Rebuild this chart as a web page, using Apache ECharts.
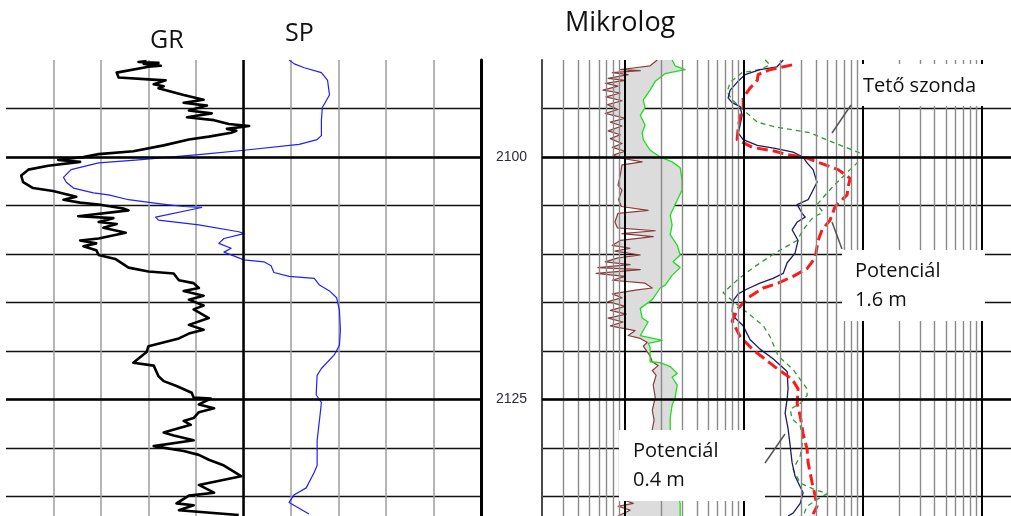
<!DOCTYPE html>
<html>
<head>
<meta charset="utf-8">
<script src="https://cdn.jsdelivr.net/npm/echarts@6/dist/echarts.min.js"></script>
<style>
  html, body { margin: 0; padding: 0; background: #fff; }
  #chart { width: 1011px; height: 516px; }
</style>
</head>
<body>
<div id="chart"></div>
<script>
// Depth window of the log plot (m) and the depths that carry a label
const depthRange = [2090, 2137];
const depthLabels = [2100, 2125];
const thickDepths = [2100, 2125];

// Left track: GR and SP, in track divisions (0..10), each point [value, depth]
const grCurve = [
  [2.96,2090.1],[2.79,2090.2],[3.21,2090.3],[2.90,2090.4],[3.26,2090.6],[3.00,2090.7],[2.33,2091.3],[2.37,2091.8],
  [3.00,2092.0],[3.36,2092.1],[3.11,2092.5],[3.32,2092.7],[3.21,2092.9],[3.74,2093.6],[4.16,2094.1],[3.74,2094.4],
  [4.23,2094.7],[3.85,2095.2],[4.33,2095.5],[3.81,2095.9],[4.38,2096.2],[4.69,2096.6],[5.12,2096.8],[4.65,2097.1],
  [4.85,2097.3],[4.74,2097.5],[4.27,2097.9],[3.85,2098.2],[3.32,2098.8],[2.68,2099.4],[1.95,2099.7],[1.63,2100.0],
  [1.10,2100.3],[1.56,2100.5],[0.89,2100.9],[0.47,2101.3],[0.32,2101.9],[0.36,2102.6],[0.57,2103.2],[0.99,2103.5],
  [1.31,2103.9],[1.48,2104.1],[1.21,2104.4],[1.56,2104.7],[1.95,2104.9],[2.47,2105.3],[2.58,2105.5],[1.52,2106.1],
  [2.26,2106.3],[1.95,2106.7],[2.33,2106.9],[2.05,2107.3],[2.52,2107.8],[1.95,2108.4],[1.56,2108.6],[1.90,2108.9],
  [1.63,2109.2],[1.90,2109.6],[1.95,2110.1],[2.30,2110.5],[2.58,2111.4],[3.00,2111.8],[3.53,2112.0],[3.64,2112.7],
  [3.95,2113.0],[4.06,2113.5],[3.74,2113.8],[4.16,2114.3],[3.85,2114.7],[4.16,2115.3],[3.95,2115.7],[4.27,2116.6],
  [3.85,2117.3],[4.16,2117.8],[3.85,2118.2],[3.64,2118.7],[3.00,2119.5],[2.96,2120.1],[2.68,2121.2],[3.11,2121.5],
  [3.21,2122.6],[3.32,2123.1],[3.59,2123.6],[3.91,2124.3],[3.95,2124.8],[4.31,2124.9],[4.06,2125.5],[4.38,2125.9],
  [4.06,2126.3],[3.95,2126.9],[3.74,2127.2],[3.89,2127.6],[3.32,2128.4],[3.53,2128.7],[3.95,2129.2],[3.11,2129.8],
  [3.74,2130.3],[4.06,2130.7],[4.27,2131.2],[4.59,2131.8],[4.95,2132.9],[4.06,2133.8],[4.38,2134.6],[3.85,2134.9],
  [3.59,2135.7],[3.95,2135.9],[3.64,2136.4],[4.90,2136.9]
];
const spCurve = [
  [5.96,2090.0],[6.07,2090.4],[6.28,2090.8],[6.64,2091.3],[6.77,2092.1],[6.81,2093.6],[6.66,2094.9],[6.64,2096.2],
  [6.64,2097.8],[6.55,2098.2],[6.17,2098.7],[5.01,2099.3],[4.17,2099.7],[2.79,2100.3],[1.95,2100.6],[1.37,2101.3],
  [1.21,2102.1],[1.27,2102.6],[1.42,2103.2],[1.84,2103.7],[2.16,2103.9],[2.58,2104.4],[3.21,2104.8],[3.74,2105.1],
  [4.12,2105.2],[3.15,2106.2],[3.21,2106.5],[4.06,2107.0],[4.90,2107.7],[5.01,2107.9],[4.59,2108.4],[4.48,2108.9],
  [4.74,2109.4],[4.59,2109.8],[4.90,2110.4],[5.01,2110.6],[5.43,2110.8],[5.58,2111.2],[5.64,2111.9],[5.96,2112.3],
  [6.49,2112.5],[6.60,2113.2],[6.81,2113.8],[6.96,2114.5],[7.02,2115.8],[7.04,2117.8],[7.02,2119.4],[6.91,2120.4],
  [6.64,2121.8],[6.55,2122.5],[6.53,2124.5],[6.64,2125.3],[6.60,2127.1],[6.55,2129.2],[6.55,2131.8],[6.49,2132.5],
  [6.32,2134.1],[6.07,2134.8],[5.96,2135.6],[6.17,2136.2],[6.38,2136.8]
];

// Right track (logarithmic): microlog pair and the three resistivity probes, [value, depth]
const microInverse = [
  [1.86,2090.0],[1.62,2090.6],[1.21,2090.8],[0.91,2091.0],[1.34,2091.1],[0.78,2091.3],[1.06,2091.5],[0.72,2091.9],
  [1.00,2092.1],[0.68,2092.4],[0.87,2092.7],[0.65,2093.1],[0.91,2093.4],[0.69,2093.8],[0.94,2094.2],[0.71,2094.6],
  [0.87,2095.1],[0.68,2095.5],[1.00,2096.0],[0.75,2096.4],[0.94,2096.8],[0.72,2097.3],[0.91,2097.7],[0.75,2098.1],
  [0.94,2098.6],[0.78,2099.0],[1.00,2099.4],[0.79,2099.8],[0.91,2100.1],[1.39,2100.5],[0.94,2100.8],[0.91,2101.9],
  [0.87,2102.9],[0.94,2103.4],[0.88,2104.4],[0.93,2105.1],[1.56,2105.5],[0.87,2105.8],[0.82,2106.7],[0.86,2107.3],
  [1.79,2107.6],[0.94,2107.9],[1.72,2108.2],[0.91,2108.6],[0.78,2109.1],[1.10,2109.4],[0.82,2109.7],[1.34,2110.1],
  [0.87,2110.4],[0.68,2110.8],[1.10,2111.1],[0.59,2111.4],[1.34,2111.6],[0.57,2112.0],[1.00,2112.3],[0.78,2112.7],
  [1.47,2113.0],[1.69,2113.5],[1.26,2113.7],[0.78,2114.1],[0.94,2114.5],[0.72,2114.9],[1.00,2115.4],[0.75,2115.8],
  [1.02,2116.2],[0.72,2116.6],[0.96,2117.0],[0.75,2117.4],[1.21,2117.9],[1.06,2118.4],[1.34,2118.7],[1.53,2119.1],
  [1.42,2119.5],[1.62,2120.5],[1.69,2121.1],[1.89,2121.5],[1.69,2122.0],[1.82,2122.5],[1.72,2123.5],[1.79,2124.8],
  [1.69,2126.1],[1.75,2127.1],[1.69,2128.1],[1.62,2131.8],[1.00,2135.4],[1.17,2135.7],[0.87,2136.0],[1.10,2136.4],
  [0.87,2137.0]
];
const microNormal = [
  [2.48,2090.0],[2.63,2090.6],[3.19,2091.0],[2.17,2091.4],[1.97,2091.8],[1.79,2092.2],[1.62,2093.1],[1.42,2094.1],
  [1.47,2094.9],[1.34,2095.7],[1.47,2096.7],[1.39,2097.5],[1.42,2098.2],[1.62,2099.3],[1.97,2100.0],[2.48,2100.5],
  [2.90,2101.1],[3.01,2102.4],[3.01,2103.4],[2.63,2104.9],[2.39,2106.0],[2.48,2107.0],[2.39,2108.0],[2.74,2109.1],
  [2.90,2110.1],[2.53,2110.8],[2.90,2111.4],[2.48,2112.2],[2.17,2113.2],[1.97,2113.5],[1.69,2114.7],[1.34,2115.6],
  [1.39,2116.6],[1.56,2117.0],[1.34,2118.4],[2.05,2118.9],[1.56,2119.2],[1.62,2119.6],[1.62,2121.1],[1.97,2121.2],
  [2.39,2121.6],[2.74,2122.3],[2.48,2122.7],[2.74,2123.5],[2.63,2124.8],[2.48,2125.6],[2.39,2126.9],[2.39,2128.1],
  [2.48,2132.0],[2.90,2135.7],[2.90,2137.0]
];
const shortNormal = [ // Potenciál 0.4 m
  [21.3,2090.0],[18.9,2090.7],[13.6,2091.0],[10.2,2091.5],[8.73,2092.3],[7.63,2093.1],[7.34,2093.9],[7.93,2094.4],
  [9.25,2094.8],[9.62,2095.7],[9.25,2096.7],[8.91,2097.5],[9.81,2098.2],[12.9,2098.8],[18.2,2099.1],[25.8,2099.5],
  [31.3,2100.0],[33.8,2100.6],[38.0,2101.3],[41.0,2102.6],[38.0,2103.4],[34.5,2104.4],[27.9,2104.9],[30.7,2105.8],
  [32.6,2106.2],[27.9,2106.7],[25.3,2107.5],[28.4,2108.6],[26.8,2109.9],[23.0,2110.9],[21.3,2112.0],[17.5,2112.5],
  [13.6,2113.0],[10.6,2113.6],[8.91,2114.1],[8.09,2114.8],[7.93,2115.9],[8.40,2116.6],[9.81,2117.4],[11.2,2118.8],
  [13.6,2119.8],[17.5,2120.8],[23.0,2122.1],[23.4,2123.9],[23.0,2124.9],[22.1,2126.4],[23.4,2128.0],[24.4,2129.8],
  [25.3,2131.5],[26.8,2132.9],[31.3,2134.6],[29.6,2135.7],[25.8,2136.7],[23.4,2137.0]
];
const longNormal = [ // Potenciál 1.6 m
  [25.3,2090.5],[16.5,2091.0],[13.1,2091.5],[12.9,2092.1],[11.2,2092.9],[9.81,2093.9],[9.81,2094.8],[9.25,2095.9],
  [8.91,2097.0],[8.73,2098.2],[11.7,2099.0],[18.2,2099.4],[22.1,2099.7],[33.8,2100.1],[41.0,2100.5],[61.7,2101.3],
  [77.8,2102.2],[74.8,2103.1],[73.4,2103.9],[58.2,2105.1],[52.8,2106.5],[45.2,2107.5],[41.9,2108.6],[39.5,2110.4],
  [33.8,2111.5],[25.8,2112.3],[19.3,2113.0],[14.5,2113.5],[10.8,2114.5],[8.91,2115.6],[7.93,2116.9],[9.25,2118.5],
  [11.7,2119.8],[15.6,2121.0],[18.9,2121.8],[25.3,2122.9],[28.4,2123.9],[27.9,2125.4],[29.6,2126.7],[31.3,2128.5],
  [33.8,2130.1],[34.5,2131.5],[37.3,2133.6],[39.5,2134.9],[41.0,2136.0],[38.0,2136.8]
];
const topProbe = [ // Tető szonda
  [15.0,2090.0],[16.5,2090.5],[13.6,2091.0],[9.62,2091.3],[7.63,2092.3],[7.20,2093.3],[7.93,2094.1],[10.6,2095.5],
  [12.9,2096.4],[18.2,2096.9],[35.9,2097.5],[56.0,2098.5],[82.4,2099.3],[100,2099.7],[94.4,2100.3],[77.8,2101.3],
  [60.5,2102.6],[49.8,2103.7],[41.0,2104.9],[46.1,2105.7],[38.0,2106.2],[31.3,2107.5],[27.9,2108.6],[18.2,2109.9],
  [11.9,2111.4],[8.91,2112.6],[6.66,2114.0],[7.93,2114.8],[10.8,2116.1],[14.5,2117.4],[16.5,2118.5],[19.3,2120.5],
  [25.8,2121.9],[33.8,2123.9],[33.8,2124.6],[29.6,2125.4],[24.4,2126.0],[25.3,2127.0],[29.6,2127.7],[31.3,2129.1],
  [29.6,2130.8],[25.8,2132.2],[29.6,2133.6],[38.0,2134.2],[49.8,2134.7],[41.0,2135.3],[33.8,2136.0],[31.3,2137.0]
];

// Logarithmic grid of the right track
const logRange = [0.2, 1750];
const logDecades = [1, 10, 100, 1000];
const logMinor = [];
[0.1, 1, 10, 100].forEach(function (d) {
  for (let k = 2; k <= 9; k++) {
    const v = +(d * k).toPrecision(3);
    if (v > logRange[0] && v < logRange[1]) logMinor.push(v);
  }
});

const FONT = '"Open Sans", "Noto Sans", sans-serif';

const vLines = (vals) => vals.map(v => ({ xAxis: v }));
const hLines = (vals) => vals.map(v => ({ yAxis: v }));

function gridMarks(xi, anchor, lines, color, width) {
  return {
    type: 'line', xAxisIndex: xi, yAxisIndex: xi, data: [anchor], showSymbol: false,
    lineStyle: { width: 0 }, silent: true, z: 1,
    markLine: {
      silent: true, symbol: ['none', 'none'], label: { show: false }, animation: false,
      lineStyle: { color: color, width: width, type: 'solid' },
      emphasis: { disabled: true },
      data: lines
    }
  };
}

function curve(xi, data, color, width, dash, z) {
  return {
    type: 'line', xAxisIndex: xi, yAxisIndex: xi, data: data, showSymbol: false, symbol: 'none',
    silent: true, z: z || 3,
    lineStyle: { color: color, width: width, type: dash || 'solid', cap: 'butt', join: 'round' },
    emphasis: { disabled: true }
  };
}

function depthAxis(gi, side, showLabels, borderColor, borderWidth) {
  return {
    gridIndex: gi, type: 'value', inverse: true, min: depthRange[0], max: depthRange[1], interval: 5,
    position: side,
    axisLine: { show: true, onZero: false, lineStyle: { color: borderColor, width: borderWidth } },
    axisTick: { show: false },
    axisLabel: {
      show: showLabels, margin: 15, fontSize: 14, fontFamily: '"Liberation Sans", Arial, sans-serif',
      color: '#2b2b3a', align: 'left',
      formatter: v => depthLabels.indexOf(v) >= 0 ? String(v) : ''
    },
    splitLine: { show: true, showMinLine: false, showMaxLine: false, lineStyle: { color: '#111', width: 1.4 } }
  };
}

const chart = echarts.init(document.getElementById('chart'), null, { renderer: 'canvas' });

const txt = (x, y, s, size) => ({
  type: 'text', x: x, y: y, z: 102,
  style: { text: s, font: size + 'px ' + FONT, fill: '#111', textAlign: 'left', textVerticalAlign: 'middle', align: 'left', verticalAlign: 'middle' }
});
const box = (x, y, w, h) => ({ type: 'rect', z: 100, shape: { x: x, y: y, width: w, height: h }, style: { fill: '#fff' } });
const leader = (x1, y1, x2, y2) => ({ type: 'line', z: 101, shape: { x1: x1, y1: y1, x2: x2, y2: y2 }, style: { stroke: '#555', lineWidth: 1.5 } });

chart.setOption({
  animation: false,
  backgroundColor: '#fff',
  grid: [
    { left: 6, top: 60, width: 475, height: 456 },
    { left: 542, top: 60, width: 469, height: 456 }
  ],
  xAxis: [
    {
      gridIndex: 0, type: 'value', min: 0, max: 10, interval: 1,
      axisLine: { show: false, onZero: false }, axisTick: { show: false }, axisLabel: { show: false },
      splitLine: { show: true, showMinLine: false, showMaxLine: false, lineStyle: { color: '#9c9c9c', width: 1.5 } }
    },
    {
      gridIndex: 1, type: 'log', logBase: 10, min: logRange[0], max: logRange[1],
      axisLine: { show: false, onZero: false }, axisTick: { show: false }, axisLabel: { show: false }, splitLine: { show: false }
    }
  ],
  yAxis: [
    depthAxis(0, 'right', true, '#000', 3),
    depthAxis(1, 'left', false, '#4a4a4a', 2)
  ],
  series: [
    gridMarks(0, [0, depthRange[0]], vLines([5]).concat(hLines(thickDepths)), '#000', 2.5),
    gridMarks(1, [1, depthRange[0]], vLines(logMinor), '#8a8a8a', 1.4),
    gridMarks(1, [1, depthRange[0]], vLines(logDecades), '#000', 2),
    gridMarks(1, [1, depthRange[0]], hLines(thickDepths), '#000', 2.5),
    {
      type: 'custom', xAxisIndex: 1, yAxisIndex: 1, silent: true, z: 2,
      data: [[1, depthRange[0]]],
      renderItem: function (params, api) {
        const pts = microInverse.map(p => api.coord(p))
          .concat(microNormal.slice().reverse().map(p => api.coord(p)));
        return { type: 'polygon', shape: { points: pts }, style: { fill: '#dcdcdc', stroke: null } };
      }
    },
    curve(0, spCurve, '#1f1fff', 1.2),
    curve(0, grCurve, '#000', 2.6),
    curve(1, microInverse, '#8a3c3c', 1.2),
    curve(1, microNormal, '#19e019', 1.3),
    curve(1, topProbe, '#2f9a2f', 1.3, [5, 4]),
    curve(1, shortNormal, '#1c1c5e', 1.3),
    curve(1, longNormal, '#ff1a1a', 3, [11, 5])
  ],
  graphic: {
    elements: [
      txt(150, 41, 'GR', 25),
      txt(285, 34, 'SP', 25),
      txt(565, 23, 'Mikrolog', 27),
      box(859, 64, 152, 42),
      txt(863, 86, 'Tető szonda', 20),
      leader(851, 105, 832, 133),
      box(842, 250, 143, 71),
      txt(855, 271, 'Potenciál', 20),
      txt(855, 300, '1.6 m', 20),
      leader(832, 222, 842, 249),
      box(619, 430, 146, 71),
      txt(633, 451, 'Potenciál', 20),
      txt(633, 480, '0.4 m', 20),
      leader(765, 463, 785, 434)
    ]
  }
});
</script>
</body>
</html>
